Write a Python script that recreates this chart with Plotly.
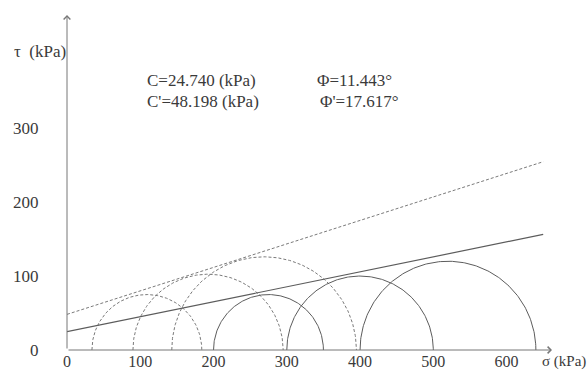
import numpy as np
import plotly.graph_objects as go

# Total stress Mohr circles (sigma3, sigma1), kPa
total_s3 = [200, 300, 400]
total_s1 = [350, 500, 640]
# Effective stress Mohr circles (sigma3', sigma1'), kPa
eff_s3 = [34, 90, 143]
eff_s1 = [184, 295, 395]
# Strength parameters
c_total, phi_total = 24.740, 11.443
c_eff, phi_eff = 48.198, 17.617
sigma_end = 650
x_ticks = [0, 100, 200, 300, 400, 500, 600]
y_ticks = [0, 100, 200, 300]

X_MAX, Y_MAX = 662, 453
FONT = "Liberation Serif, Times New Roman, DejaVu Serif, serif"
SOLID = "#5c5c5c"
DASHC = "#7a7a7a"

fig = go.Figure()

def semicircle(s3, s1):
    c = (s3 + s1) / 2.0
    r = (s1 - s3) / 2.0
    t = np.linspace(np.pi, 0, 181)
    return c + r * np.cos(t), r * np.sin(t)

for s3, s1 in zip(eff_s3, eff_s1):
    x, y = semicircle(s3, s1)
    fig.add_trace(go.Scatter(x=x, y=y, mode="lines",
                             line=dict(color=DASHC, width=1, dash="3px,2px"),
                             hoverinfo="skip", showlegend=False))
for s3, s1 in zip(total_s3, total_s1):
    x, y = semicircle(s3, s1)
    fig.add_trace(go.Scatter(x=x, y=y, mode="lines",
                             line=dict(color=SOLID, width=1),
                             hoverinfo="skip", showlegend=False))

sig = np.array([0, sigma_end])
fig.add_trace(go.Scatter(x=sig, y=c_eff + sig * np.tan(np.radians(phi_eff)), mode="lines",
                         line=dict(color=DASHC, width=1, dash="3px,2px"),
                         hoverinfo="skip", showlegend=False))
fig.add_trace(go.Scatter(x=sig, y=c_total + sig * np.tan(np.radians(phi_total)), mode="lines",
                         line=dict(color=SOLID, width=1.2),
                         hoverinfo="skip", showlegend=False))

ann = []
# axis arrows
ann.append(dict(x=X_MAX, y=0, ax=0, ay=0, xref="x", yref="y", axref="x", ayref="y",
                showarrow=True, arrowhead=4, arrowsize=1.3, arrowwidth=1, arrowcolor="#777", text=""))
ann.append(dict(x=0, y=Y_MAX, ax=0, ay=0, xref="x", yref="y", axref="x", ayref="y",
                showarrow=True, arrowhead=4, arrowsize=1.3, arrowwidth=1, arrowcolor="#777", text=""))
tf = dict(family=FONT, size=17, color="#3a3a3a")
xtf = dict(family=FONT, size=16, color="#3a3a3a")
ann.append(dict(x=645, y=0, xref="x", yref="y", text="σ (kPa)", showarrow=False,
                xanchor="left", yanchor="top", yshift=-1, font=dict(family=FONT, size=15, color="#3a3a3a")))
ann.append(dict(x=0, y=403, xref="x", yref="y", text="τ  (kPa)", showarrow=False,
                xanchor="right", yanchor="middle", xshift=1, font=tf))
ann.append(dict(x=106, y=365, xref="x", yref="y", text=f"C={c_total:.3f} (kPa)", showarrow=False,
                xanchor="left", yanchor="middle", font=tf))
ann.append(dict(x=106, y=336, xref="x", yref="y", text=f"C'={c_eff:.3f} (kPa)", showarrow=False,
                xanchor="left", yanchor="middle", font=tf))
ann.append(dict(x=338, y=365, xref="x", yref="y", text=f"Φ={phi_total:.3f}°", showarrow=False,
                xanchor="left", yanchor="middle", font=tf))
ann.append(dict(x=342, y=336, xref="x", yref="y", text=f"Φ'={phi_eff:.3f}°", showarrow=False,
                xanchor="left", yanchor="middle", font=tf))

fig.update_layout(
    width=587, height=372,
    margin=dict(l=67, r=35, t=15, b=22, autoexpand=False),
    paper_bgcolor="white", plot_bgcolor="white",
    annotations=ann,
    xaxis=dict(range=[0, X_MAX], showgrid=False, zeroline=False, showline=False,
               tickvals=x_ticks, ticks="",
               tickfont=xtf, fixedrange=True, automargin=False),
    yaxis=dict(range=[0, Y_MAX], showgrid=False, zeroline=False, showline=False,
               tickvals=y_ticks, ticks="outside", ticklen=24, tickcolor="rgba(0,0,0,0)",
               tickfont=tf, fixedrange=True, automargin=False),
)

fig.write_html("out.html")
